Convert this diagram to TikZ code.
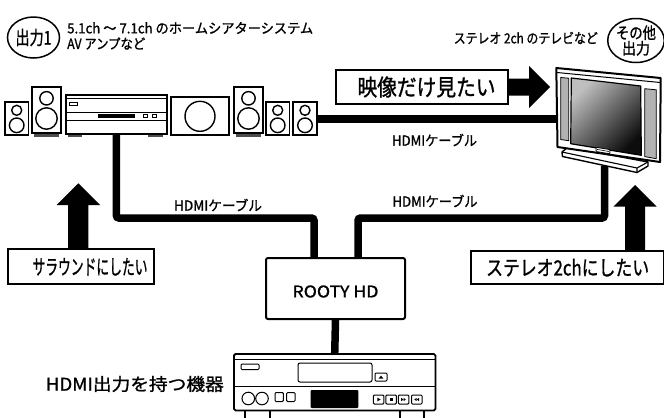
\documentclass[tikz,border=0pt]{standalone}
\usepackage{fontspec}
\usepackage{graphicx}
\setmainfont[FakeBold=1.2]{Noto Sans CJK JP}
\usetikzlibrary{shapes.geometric}
\newcommand{\fsz}[1]{\fontsize{#1}{#1}\selectfont}
% squeeze or stretch a text horizontally to a given width, keeping its height
\newcommand{\wfit}[2]{\resizebox{#1}{\height}{#2}}

\tikzset{
  cable/.style={line width=7.5bp, rounded corners=2.5bp},
  outl/.style={draw=black, line width=1.8bp, fill=white},
  fine/.style={draw=black, line width=1bp},
  lbl/.style={inner sep=0pt, font=\fsz{14}},
  panel/.style={draw=black, line width=2bp, fill=white, inner sep=0pt},
  badge/.style={draw=black, line width=1.5bp, ellipse, inner sep=0pt},
  smallspk/.pic={
    \draw[outl] (0,0) rectangle (23.5,33);
    \draw[line width=1.4bp] (11.7,8.3) circle[radius=5];
    \draw[line width=1.4bp] (11.7,23.3) circle[radius=7.3];
  },
  tallspk/.pic={
    \fill[black!70] (2,44) rectangle (27,49.5);
    \draw[outl] (0,0) rectangle (29,46);
    \draw[line width=1.4bp] (14.5,11.3) circle[radius=6.7];
    \draw[line width=1.4bp] (14.5,31.5) circle[radius=10.7];
  }
}

\begin{document}
\begin{tikzpicture}[x=1bp,y=-1bp]
\useasboundingbox (0,0) rectangle (664,417);

% ---------- headings ----------
\node[badge, minimum width=52bp, minimum height=41bp, font=\fsz{19}] (out1) at (33.5,37.5) {\wfit{36bp}{出力1}};
\node[lbl, anchor=west] (head1) at (67,28) {\wfit{246bp}{5.1ch 〜 7.1ch のホームシアターシステム}};
\node[lbl, anchor=west] (head2) at (67,43.5) {\wfit{78bp}{AV アンプなど}};

\node[badge, minimum width=52bp, minimum height=44bp, align=center, font=\fontsize{16}{13.5}\selectfont] (out2) at (636,40.5) {\wfit{40bp}{その他}\\\wfit{28bp}{出力}};
\node[lbl, anchor=east] (head3) at (598,38) {\wfit{144bp}{ステレオ 2ch のテレビなど}};

% ---------- device ports ----------
\coordinate (spkout) at (317,119);
\coordinate (tvin) at (557,119);
\coordinate (tvport) at (604.5,166);
\coordinate (lrun) at (0,218);
\coordinate (rin1) at (314,258);
\coordinate (rin2) at (358,258);

% ---------- cables ----------
\node[inner sep=0, minimum width=101bp, minimum height=38.3bp, anchor=north west] (amp) at (65.7,95) {};
\draw[cable] (spkout) -- (tvin);
\draw[cable] (amp.south) |- (lrun -| rin1) -- (rin1);
\draw[cable] (tvport) |- (lrun -| rin2) -- (rin2);

% ---------- speakers and amplifier ----------
\pic at (5,102) {smallspk};
\pic at (32,87) {tallspk};
\fill[black!70] (68,131) rectangle (82,136.5);
\fill[black!70] (148,131) rectangle (163,136.5);
\draw[outl] (amp.north west) rectangle (amp.south east);
\draw[fine] (65.7,98.3) -- (166.7,98.3);
\draw[fine] (65.7,112) -- (166.7,112);
\draw[fine] (65.7,120) -- (166.7,120);
\draw[fine] (69,102.3) rectangle (77.3,105.9);
\fill (97.7,113.5) rectangle (135,118.2);
\draw[fine] (143.3,114) rectangle (147.3,117.6);
\draw[fine] (152.7,114) rectangle (156.7,117.6);
% subwoofer
\draw[outl] (171,97.3) rectangle (229,135);
\draw[line width=1.4bp] (200,116.3) circle[radius=15];
\pic at (234,87) {tallspk};
\pic at (266,102) {smallspk};
\pic at (293.3,102) {smallspk};

% ---------- television ----------
\draw[line width=1.4bp, fill=white, line join=round] (568,147) -- (562,152) -- (562.5,156.5) -- (637,172.5) -- (648,166) -- (648,162) -- cycle;
\draw[line width=1.1bp] (562,152) -- (637,168) -- (648,162) (637,168) -- (637,172.5);
\draw[line width=2bp, fill=white, line join=round] (556.3,68) -- (660.7,78) -- (660,162) -- (557.5,147) -- cycle;
\draw[line width=1bp] (557,72.5) -- (660.3,82.5);
\draw[line width=0.8bp, fill=black!30] (560.7,77.5) -- (568.7,78.2) -- (568.7,140.7) -- (560.7,139.5) -- cycle;
\draw[line width=0.8bp, fill=black!30] (644.7,88.7) -- (656.3,89.8) -- (656.3,158.7) -- (644.7,156.6) -- cycle;
\shade[top color=black!25, bottom color=black!95, shading angle=45] (571.3,78) -- (640.7,86) -- (641.3,155.3) -- (570.7,143.7) -- cycle;
\draw[line width=1.2bp, line join=round] (571.3,78) -- (640.7,86) -- (641.3,155.3) -- (570.7,143.7) -- cycle;
\draw[line width=0.8bp, fill=white, rounded corners=1bp] (596,147.3) -- (610,149.6) -- (610,153.8) -- (596,151.5) -- cycle;
\draw[line width=0.6bp] (597,149.4) -- (609,151.5);

% ---------- wishes ----------
\node[panel, minimum width=172bp, minimum height=34bp, anchor=north west, font=\fsz{23}] (want1) at (335,69) {\hspace*{9bp}\wfit{138bp}{映像だけ見たい}};
\fill (want1.east) ++(-5,-8.5) -- ++(25,0) -- ++(0,-12.5) -- ++(21,21) -- ++(-21,21) -- ++(0,-12.5) -- ++(-25,0) -- cycle;
\node[panel, minimum width=172bp, minimum height=34bp, anchor=north west, font=\fsz{23}] at (335,69) {\hspace*{9bp}\wfit{138bp}{映像だけ見たい}};

\node[panel, minimum width=146.6bp, minimum height=35bp, anchor=north west, font=\fsz{21}] (want2) at (6.7,248.3) {\hspace*{18bp}\wfit{115bp}{サラウンドにしたい}};
\fill (want2.north west) ++(61.3,0) -- ++(0,-43.3) -- ++(-11.3,0) -- ++(21.7,-21.7) -- ++(21.7,21.7) -- ++(-11.8,0) -- ++(0,43.3) -- cycle;

\node[panel, minimum width=193.3bp, minimum height=33.3bp, anchor=north west, font=\fsz{21}] (want3) at (470,250) {\wfit{163bp}{ステレオ2chにしたい}};
\fill (want3.north west) ++(155,0) -- ++(0,-43.3) -- ++(-11.7,0) -- ++(21.7,-21.7) -- ++(21.7,21.7) -- ++(-11.7,0) -- ++(0,43.3) -- cycle;

% ---------- cable labels ----------
\node[lbl] (cab1) at (434.5,140) {\wfit{85bp}{HDMIケーブル}};
\node[lbl] (cab2) at (218,205) {\wfit{88bp}{HDMIケーブル}};
\node[lbl] (cab3) at (435,201) {\wfit{85bp}{HDMIケーブル}};

% ---------- converter and source ----------
\node[panel, rounded corners=2bp, minimum width=139bp, minimum height=61bp, anchor=north west] (rooty) at (265,257) {};
\node[lbl, font=\fsz{16}] (rootyname) at ([yshift=-3bp]rooty.center) {\wfit{86bp}{ROOTY HD}};

\node[inner sep=0, minimum width=201bp, minimum height=56bp, anchor=north west] (dvd) at (234,354) {};
\draw[cable, rounded corners=0] (rooty.south) -- (dvd.north);
\foreach \lx in {245,270,400,424} \draw[line width=1.6bp] (\lx,409) -- (\lx,418);
\draw[outl, rounded corners=1.5bp] (dvd.north west) rectangle (dvd.south east);
\draw[fine] (234,359) -- (435,359);
\draw[fine] (234,386) -- (435,386);
\draw[fine, rounded corners=1bp] (241,364) rectangle (259,369.5);
\draw[fine, rounded corners=2bp] (298,363) rectangle (372,382);
\draw[fine, rounded corners=1bp] (375,373) rectangle (387,381);
\fill (378.6,378.6) -- (383.4,378.6) -- (381,375.6) -- cycle;
\draw[fine] (248.3,398.5) circle[radius=6.3];
\draw[fine] (262,398.5) circle[radius=6.3];
\draw[fine, rounded corners=1bp] (275,392.5) rectangle (283.3,401.5);
\draw[fine, rounded corners=1bp] (286.7,392.5) rectangle (295,401.5);
\fill[rounded corners=1bp] (310.7,390) rectangle (358.3,408);
\foreach \bx in {373.3,385.8,398.3,411.5} \draw[fine, rounded corners=1bp] (\bx,395) rectangle ++(10.5,9);
\fill (377.3,397.6) -- (380.6,399.5) -- (377.3,401.4) -- cycle;
\fill (389.6,398) rectangle (392.8,401);
\fill (401.2,397.8) -- (403.4,399.5) -- (401.2,401.2) -- cycle;
\fill (403.6,397.8) -- (405.8,399.5) -- (403.6,401.2) -- cycle;
\fill (416.6,397.8) -- (414.4,399.5) -- (416.6,401.2) -- cycle;
\fill (419,397.8) -- (416.8,399.5) -- (419,401.2) -- cycle;
\node[lbl, anchor=east, font=\fsz{17.5}] (srcname) at (224,384) {\wfit{178bp}{HDMI出力を持つ機器}};

\end{tikzpicture}
\end{document}
